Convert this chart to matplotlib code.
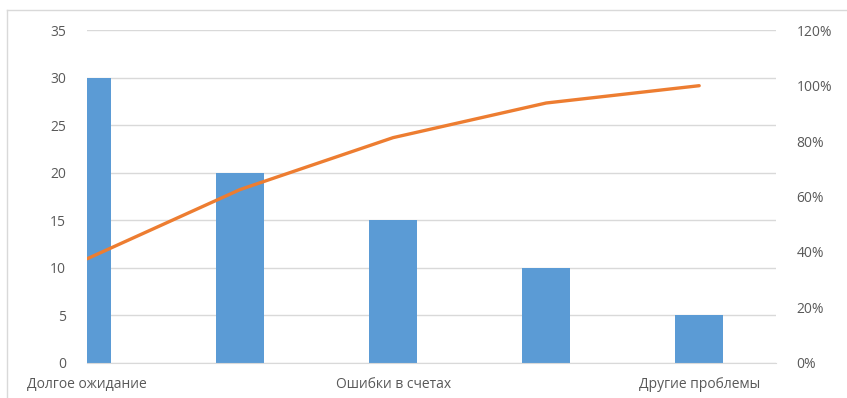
import numpy as np
import matplotlib.pyplot as plt
from matplotlib.lines import Line2D

plt.rcParams['font.family'] = ['Open Sans', 'DejaVu Sans']

# complaint categories (only every second label is printed on the axis)
categories = ["Долгое ожидание", "", "Ошибки в счетах", "", "Другие проблемы"]
counts = [30, 20, 15, 10, 5]
left_ticks = [0, 5, 10, 15, 20, 25, 30, 35]
right_ticks = [0, 0.2, 0.4, 0.6, 0.8, 1.0, 1.2]

cum_share = np.cumsum(counts) / np.sum(counts)

W, H = 847, 398
fig = plt.figure(figsize=(W / 100, H / 100), dpi=100)

# chart frame
fig.add_artist(Line2D([7 / W, 7 / W], [0, 1 - 10 / H], color='#D9D9D9', lw=1))
fig.add_artist(Line2D([7 / W, 1], [1 - 10 / H, 1 - 10 / H], color='#D9D9D9', lw=1))

x0, x1, ytop, ybot = 87, 775.7, 30.3, 362.7
ax = fig.add_axes([x0 / W, (H - ybot) / H, (x1 - x0) / W, (ybot - ytop) / H])
x = np.arange(len(counts))

ax.bar(x, counts, width=0.315, color='#5B9BD5', zorder=2, clip_on=True)
ax.set_xlim(0, 4.5)
ax.set_ylim(0, 35)
ax.set_yticks(left_ticks)
ax.grid(axis='y', color='#D9D9D9', lw=1, zorder=0)
ax.set_xticks([i for i, c in enumerate(categories) if c])
ax.set_xticklabels([c for c in categories if c])
for s in ['top', 'right', 'left']:
    ax.spines[s].set_visible(False)
ax.spines['bottom'].set_color('#D9D9D9')
ax.tick_params(axis='both', length=0, colors='#595959', labelsize=10)
ax.tick_params(axis='y', pad=15)
ax.tick_params(axis='x', pad=10)

ax2 = ax.twinx()
ax2.plot(x, cum_share, color='#ED7D31', lw=2.4, solid_capstyle='round', zorder=3)
ax2.set_ylim(0, 1.2)
ax2.set_yticks(right_ticks)
ax2.set_yticklabels([f"{int(round(v * 100))}%" for v in right_ticks])
for s in ax2.spines.values():
    s.set_visible(False)
ax2.tick_params(axis='y', length=0, colors='#595959', labelsize=10, pad=15)

fig.savefig('out.png', dpi=100)
